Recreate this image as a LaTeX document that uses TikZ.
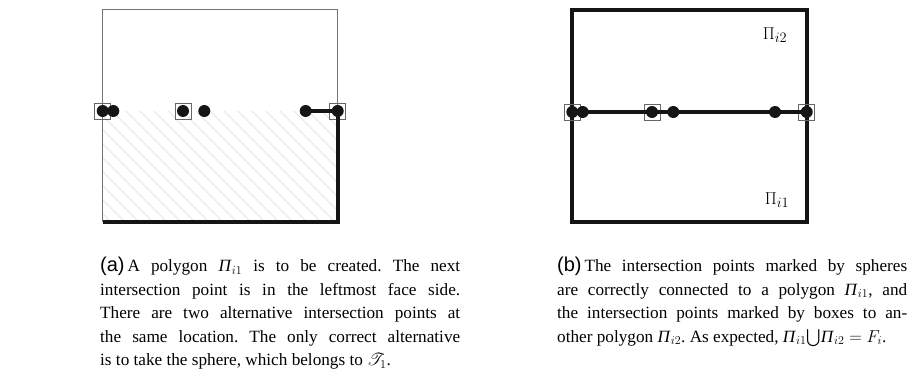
\documentclass[tikz,border=0pt]{standalone}
\usepackage{amsmath,amssymb}
\usepackage{mathrsfs}
\usepackage{fontspec}
\setmainfont{Liberation Serif}
\newfontfamily\capsans{Liberation Sans}
\usetikzlibrary{positioning}
\definecolor{Ink}{HTML}{151515}
\newcommand{\PiIt}[1]{\textit{Π}\ensuremath{_{#1}}}
\frenchspacing

\begin{document}
\begin{tikzpicture}[x=1pt,y=-1pt,
  frame/.style={draw=black!55, line width=0.9pt},
  edge/.style={draw=Ink, line width=4pt},
  dot/.style={circle, fill=Ink, inner sep=0pt, minimum size=12pt},
  boxmark/.style={rectangle, draw=black!60, line width=0.8pt, inner sep=0pt, minimum size=16pt},
  hatch/.style={draw=black!10, line width=0.8pt},
  caption/.style={anchor=north west, inner sep=0pt, align=justify,
                  font=\fontsize{17.2}{23.5}\selectfont}
]
\useasboundingbox (0,0) rectangle (913,380);

% left panel
\coordinate (lNW) at (102.7,9.5);
\coordinate (lSE) at (337.7,221.7);
\coordinate (lSW) at (102.7,221.7);
\begin{scope}
  \clip (102.7,111) rectangle (lSE);
  \foreach \x in {0,14,...,350} {
    \draw[hatch] (\x,111) -- ++(111,111);
  }
\end{scope}
\draw[frame] (lNW) rectangle (lSE);

\node[boxmark] (lbA) at (102.7,111) {};
\node[boxmark] (lbC) at (183,111)   {};
\node[boxmark] (lbF) at (337.7,111) {};
\node[dot] (ldA) at (102.7,111) {};
\node[dot] (ldB) at (113.3,111) {};
\node[dot] (ldC) at (183,111)   {};
\node[dot] (ldD) at (204.3,111) {};
\node[dot] (ldE) at (305.7,111) {};
\node[dot] (ldF) at (337.7,111) {};

\draw[edge] (ldE.center) -- (ldF.center) -- (lSE) -- (lSW);

% right panel
\coordinate (rNW) at (572.3,10);
\coordinate (rSE) at (806.7,222);
\draw[edge] (rNW) rectangle (rSE);

\node[boxmark] (rbA) at (572.3,112) {};
\node[boxmark] (rbC) at (652,112)   {};
\node[boxmark] (rbF) at (806.7,112) {};
\node[dot] (rdA) at (572.3,112) {};
\node[dot] (rdB) at (582.7,112) {};
\node[dot] (rdC) at (652,112)   {};
\node[dot] (rdD) at (673.3,112) {};
\node[dot] (rdE) at (775,112)   {};
\node[dot] (rdF) at (806.7,112) {};

\draw[edge] (rdA.center) -- (rdB.center) -- (rdC.center) -- (rdD.center)
            -- (rdE.center) -- (rdF.center);

\node[font=\fontsize{19}{19}\selectfont] (pi2) at (775,35)  {$\Pi_{i2}$};
\node[font=\fontsize{19}{19}\selectfont] (pi1) at (777,200) {$\Pi_{i1}$};

% captions
\node[caption, text width=360pt] (capA) at (100,257) {%
  {\capsans\fontsize{20}{20}\selectfont(a)}\,A polygon \PiIt{i1} is to be created. The next\linebreak
  intersection point is in the leftmost face side.\linebreak
  There are two alternative intersection points at\linebreak
  the same location. The only correct alternative\linebreak
  is to take the sphere, which belongs to $\mathscr{T}_1$.};
\node[caption, text width=350pt] (capB) at (557,257) {%
  {\capsans\fontsize{20}{20}\selectfont(b)}\,The intersection points marked by spheres\linebreak
  are correctly connected to a polygon \PiIt{i1}, and\linebreak
  the intersection points marked by boxes to an-\linebreak
  other polygon \PiIt{i2}. As expected, \PiIt{i1}$\bigcup$\PiIt{i2}${}=F_i$.};
\end{tikzpicture}
\end{document}
